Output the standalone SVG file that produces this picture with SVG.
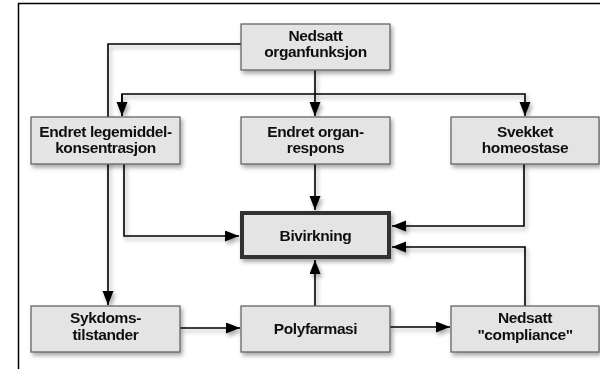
<svg xmlns="http://www.w3.org/2000/svg" width="600" height="369" viewBox="0 0 600 369">
<defs>
<filter id="sh" x="-20%" y="-20%" width="140%" height="160%">
<feDropShadow dx="2" dy="3" stdDeviation="2" flood-color="#000" flood-opacity="0.35"/>
</filter>
<marker id="ah" markerUnits="userSpaceOnUse" markerWidth="15" markerHeight="12" refX="14" refY="5.5" orient="auto">
<path d="M0,0 L14,5.5 L0,11 z" fill="#000"/>
</marker>
</defs>
<style>
.box{fill:#e4e4e4;stroke:#5a5a5a;stroke-width:1.2}
.main{fill:#e4e4e4;stroke:#333;stroke-width:4}
.lbl{font-family:"Liberation Sans",Arial,sans-serif;font-weight:bold;font-size:15.5px;fill:#111;text-anchor:middle;letter-spacing:-0.4px}
.c{fill:none;stroke:#000;stroke-width:1.6}
.frame{fill:none;stroke:#000;stroke-width:1.5}
</style>
<path class="frame" d="M18.5,369 V3.5 H600"/>
<g id="connectors" filter="url(#sh)">
<path class="c" d="M241,44 H108 V305" marker-end="url(#ah)"/>
<path class="c" d="M315,70 V116" marker-end="url(#ah)"/>
<path class="c" d="M122,116 V94 H525 V116" marker-end="url(#ah)"/>
<path class="c" d="M122,94 V116" marker-end="url(#ah)"/>
<path class="c" d="M124,164 V236 H239" marker-end="url(#ah)"/>
<path class="c" d="M315,164 V210" marker-end="url(#ah)"/>
<path class="c" d="M524,164 V226 H392" marker-end="url(#ah)"/>
<path class="c" d="M525,306 V247 H392" marker-end="url(#ah)"/>
<path class="c" d="M315,306 V260" marker-end="url(#ah)"/>
<path class="c" d="M180,328 H240" marker-end="url(#ah)"/>
<path class="c" d="M390,327 H450" marker-end="url(#ah)"/>
</g>
<g id="n_nedsatt_organ" filter="url(#sh)">
<rect class="box" x="241" y="24" width="149" height="46"/>
<text class="lbl" x="315.5" y="40.5">Nedsatt</text>
<text class="lbl" x="315.5" y="57">organfunksjon</text>
</g>
<g id="n_legemiddel" filter="url(#sh)">
<rect class="box" x="31" y="117" width="149" height="47"/>
<text class="lbl" x="105.5" y="137">Endret legemiddel-</text>
<text class="lbl" x="105.5" y="153">konsentrasjon</text>
</g>
<g id="n_organrespons" filter="url(#sh)">
<rect class="box" x="241" y="117" width="149" height="47"/>
<text class="lbl" x="315.5" y="137">Endret organ-</text>
<text class="lbl" x="315.5" y="153">respons</text>
</g>
<g id="n_homeostase" filter="url(#sh)">
<rect class="box" x="451" y="117" width="148" height="47"/>
<text class="lbl" x="525" y="137">Svekket</text>
<text class="lbl" x="525" y="153">homeostase</text>
</g>
<g id="n_bivirkning" filter="url(#sh)">
<rect class="main" x="242" y="213" width="147" height="44"/>
<text class="lbl" x="315.5" y="240.5">Bivirkning</text>
</g>
<g id="n_sykdom" filter="url(#sh)">
<rect class="box" x="31" y="306" width="149" height="46"/>
<text class="lbl" x="105.5" y="323">Sykdoms-</text>
<text class="lbl" x="105.5" y="340">tilstander</text>
</g>
<g id="n_polyfarmasi" filter="url(#sh)">
<rect class="box" x="241" y="306" width="149" height="46"/>
<text class="lbl" x="315.5" y="334">Polyfarmasi</text>
</g>
<g id="n_compliance" filter="url(#sh)">
<rect class="box" x="451" y="306" width="148" height="46"/>
<text class="lbl" x="525" y="323">Nedsatt</text>
<text class="lbl" x="525" y="340">"compliance"</text>
</g>
</svg>
